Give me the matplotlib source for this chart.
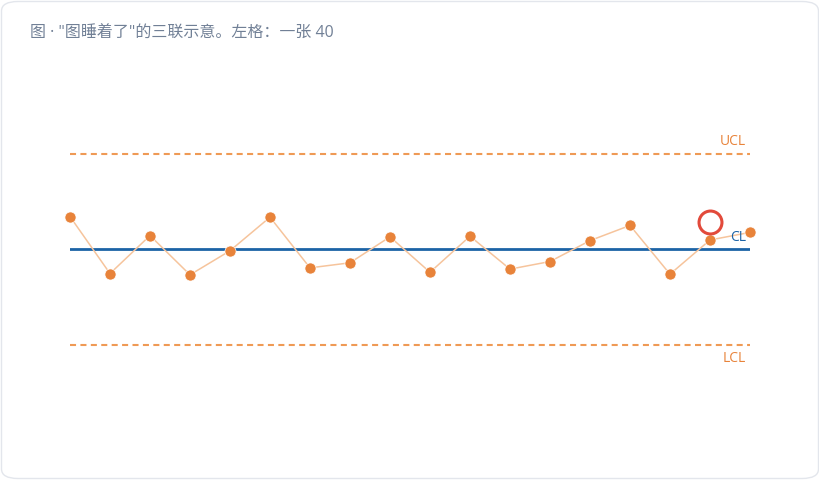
import matplotlib
matplotlib.use("Agg")
import matplotlib.pyplot as plt
from matplotlib.patches import FancyBboxPatch

plt.rcParams['font.family'] = ['Open Sans', 'Noto Sans CJK SC', 'DejaVu Sans']

title = '图 · "图睡着了"的三联示意。左格：一张 40'
values = [55.2, 46.2, 52.2, 46.0, 49.8, 55.1, 47.1, 47.9, 52.0,
          46.4, 52.1, 46.9, 48.1, 51.4, 53.8, 46.1, 51.5, 52.7]
cl = 50.0
ucl = 65.0
lcl = 35.0
flag_idx = 16
flag_val = 54.3

fig = plt.figure(figsize=(8.2, 4.8), dpi=100)

# card border, kept behind the axes
card = FancyBboxPatch((1.5 / 820, 1.5 / 480), 817 / 820, 477 / 480,
                      boxstyle="round,pad=0,rounding_size=0.02",
                      transform=fig.transFigure, facecolor="white",
                      edgecolor="#e3e6ec", linewidth=1.0, zorder=-1)
fig.patches.append(card)

fig.text(30 / 820, 1 - 34 / 480, title, color="#718096", fontsize=11.5,
         ha="left", va="center")

ax = fig.add_axes([70 / 820, 80 / 480, 680 / 820, 300 / 480])
ax.set_xlim(0, len(values) - 1)
ax.set_ylim(26.24, 73.6)
ax.axis("off")

x = list(range(len(values)))
ax.plot([0, len(values) - 1], [ucl, ucl], color="#ef9a55", lw=1.5,
        dashes=(2.9, 2.1))
ax.plot([0, len(values) - 1], [lcl, lcl], color="#ef9a55", lw=1.5,
        dashes=(2.9, 2.1))
ax.plot([0, len(values) - 1], [cl, cl], color="#1c63a6", lw=2)

ax.plot(x, values, color="#f6c49c", lw=1.1, zorder=3)
ax.plot(x, values, "o", color="#e8833a", markersize=8,
        markeredgecolor="white", markeredgewidth=0.5, zorder=4, clip_on=False)

ax.plot([flag_idx], [flag_val], "o", markerfacecolor="none",
        markeredgecolor="#e24a3b", markersize=16.5, markeredgewidth=2.2,
        zorder=5, clip_on=False)

ax.annotate("UCL", (len(values) - 1, ucl), xytext=(-3, 9.5),
            textcoords="offset points", ha="right", va="center",
            color="#e8833a", fontsize=10)
ax.annotate("CL", (len(values) - 1, cl), xytext=(-3, 8.5),
            textcoords="offset points", ha="right", va="center",
            color="#1c63a6", fontsize=10)
ax.annotate("LCL", (len(values) - 1, lcl), xytext=(-3, -10),
            textcoords="offset points", ha="right", va="center",
            color="#e8833a", fontsize=10)

fig.savefig("out.png", dpi=100)
